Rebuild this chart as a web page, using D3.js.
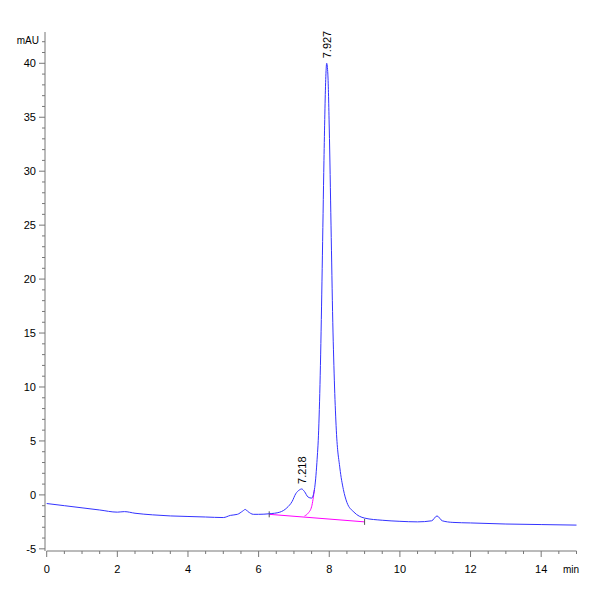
<!DOCTYPE html>
<html><head><meta charset="utf-8">
<script src="https://cdn.jsdelivr.net/npm/d3@7"></script>
<style>body{margin:0;background:#fff}svg{font-family:"Liberation Sans Narrow","Liberation Sans",Arial,sans-serif}</style>
</head><body>
<svg width="600" height="600"></svg>
<script>
// chromatogram trace, minutes vs mAU
const times = [0, 0.5, 1, 1.5, 2, 2.2, 2.5, 3, 3.5, 4, 4.5, 5, 5.2, 5.4, 5.55, 5.62, 5.7, 5.85, 6, 6.3, 6.6, 6.8, 6.95, 7.05, 7.15, 7.218, 7.3, 7.4, 7.5, 7.58, 7.65, 7.7, 7.75, 7.8, 7.85, 7.9, 7.927, 7.96, 8.0, 8.05, 8.1, 8.15, 8.2, 8.3, 8.4, 8.5, 8.7, 9.0, 9.5, 10, 10.5, 10.9, 11.05, 11.2, 11.5, 12, 13, 14, 15]
const signal = [-0.8, -1.0, -1.2, -1.4, -1.6, -1.55, -1.7, -1.85, -1.95, -2.0, -2.05, -2.1, -1.9, -1.8, -1.5, -1.35, -1.55, -1.8, -1.8, -1.75, -1.6, -1.2, -0.6, 0.1, 0.45, 0.55, 0.3, -0.2, -0.3, 0.5, 3, 6, 12, 21, 31, 38.5, 40, 39, 34, 25, 16, 10, 6, 2.5, 0.5, -0.7, -1.6, -2.15, -2.35, -2.45, -2.5, -2.4, -1.95, -2.4, -2.55, -2.6, -2.7, -2.75, -2.8]
const peakLabels = [{t: 7.218, y: 0.55, label: "7.218"}, {t: 7.927, y: 40, label: "7.927"}]
// integration baseline and drop line
const baseLine = [[6.3, -1.8], [9.0, -2.5]]
const dropLine = [[7.3, -1.95], [7.4, -1.7], [7.5, -1.1], [7.58, 0.5]]
const xTicks = [0, 2, 4, 6, 8, 10, 12, 14]
const yTicks = [-5, 0, 5, 10, 15, 20, 25, 30, 35, 40]

const svg = d3.select("svg")
const x = d3.scaleLinear().domain([0, 15]).range([46.7, 576.5])
const y = d3.scaleLinear().domain([-5.2, 42.9]).range([551, 32])

// x axis
const gx = svg.append("g").attr("transform", "translate(0,551)")
gx.append("line").attr("x1", x(0)).attr("x2", x(15)).attr("stroke", "#777")
d3.range(0, 15.01, 0.5).forEach(t => {
    const major = t % 2 === 0
    gx.append("line").attr("x1", x(t)).attr("x2", x(t)).attr("y1", 0).attr("y2", major ? 6 : 3).attr("stroke", "#777")
})
xTicks.forEach(t => gx.append("text").attr("x", x(t)).attr("y", 22).attr("text-anchor", "middle").attr("font-size", 11).text(t))
gx.append("text").attr("x", 571).attr("y", 22).attr("text-anchor", "middle").attr("font-size", 10).text("min")

// y axis
const gy = svg.append("g").attr("transform", "translate(45,0)")
gy.append("line").attr("y1", y(-5.2)).attr("y2", y(42.9)).attr("stroke", "#777")
d3.range(-5, 42.9, 1).forEach(v => {
    const major = v % 5 === 0
    gy.append("line").attr("y1", y(v)).attr("y2", y(v)).attr("x1", 0).attr("x2", major ? -6 : -3).attr("stroke", "#777")
})
yTicks.forEach(v => gy.append("text").attr("x", -9).attr("y", y(v) + 4).attr("text-anchor", "end").attr("font-size", 11).text(v))
gy.append("text").attr("x", -6).attr("y", 44).attr("text-anchor", "end").attr("font-size", 10).text("mAU")

const line = d3.line().x(d => x(d[0])).y(d => y(d[1])).curve(d3.curveMonotoneX)

svg.append("path").datum(baseLine).attr("d", line).attr("fill", "none").attr("stroke", "#ff00ff").attr("stroke-width", 1)
svg.append("path").datum(dropLine).attr("d", line).attr("fill", "none").attr("stroke", "#ff00ff").attr("stroke-width", 1)
baseLine.forEach(d => svg.append("line").attr("x1", x(d[0])).attr("x2", x(d[0])).attr("y1", y(d[1]) - 3).attr("y2", y(d[1]) + 3).attr("stroke", "#555"))

svg.append("path").datum(times.map((t, i) => [t, signal[i]])).attr("d", line)
    .attr("fill", "none").attr("stroke", "#3333ff").attr("stroke-width", 1)

peakLabels.forEach(p => {
    svg.append("text")
        .attr("transform", `translate(${x(p.t) + 4},${y(p.y) - 5}) rotate(-90)`)
        .attr("font-size", 11).attr("font-family", "Liberation Sans, Arial").text(p.label)
})
</script>
</body></html>
